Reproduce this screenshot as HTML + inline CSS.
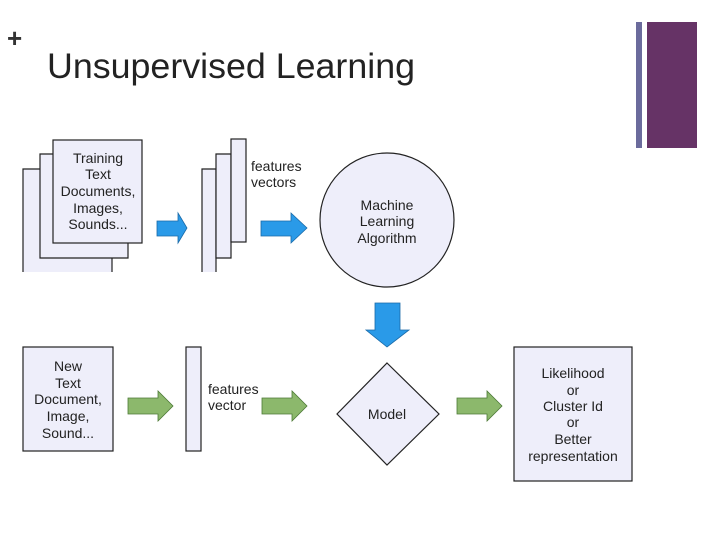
<!DOCTYPE html>
<html><head><meta charset="utf-8"><style>
body{margin:0;background:#fff}
svg{display:block;font-family:"Liberation Sans",Arial,sans-serif}
</style></head><body>
<svg width="720" height="540" viewBox="0 0 720 540" xmlns="http://www.w3.org/2000/svg">
<rect width="720" height="540" fill="#fff"/>
<text x="7" y="47" font-size="26" font-weight="bold" fill="#333">+</text>
<text x="47" y="78" font-size="35" fill="#222" textLength="368" lengthAdjust="spacingAndGlyphs">Unsupervised Learning</text>
<rect x="636" y="22" width="6" height="126" fill="#6b6b9c"/>
<rect x="647" y="22" width="50" height="126" fill="#663366"/>
<g fill="#eeeefa" stroke="#222" stroke-width="1.2">
<path d="M23 272 V169 H112 V272"/>
<path d="M40 258 V154 H128 V258 Z" />
<rect x="53" y="140" width="89" height="103"/>
<path d="M202 272 V169 H216 V272"/>
<path d="M216 258 V154 H231 V258 Z"/>
<rect x="231" y="139" width="15" height="103"/>
<circle cx="387" cy="220" r="67"/>
<rect x="23" y="347" width="90" height="104"/>
<rect x="186" y="347" width="15" height="104"/>
<polygon points="387,363 439,414 387,465 337,414"/>
<rect x="514" y="347" width="118" height="134"/>
</g>
<g font-size="14" fill="#222" text-anchor="middle">
<text x="98" y="163">Training</text><text x="98" y="179">Text</text><text x="98" y="196">Documents,</text><text x="98" y="213">Images,</text><text x="98" y="229">Sounds...</text>
<text x="387" y="210">Machine</text><text x="387" y="226">Learning</text><text x="387" y="243">Algorithm</text>
<text x="68" y="371">New</text><text x="68" y="388">Text</text><text x="68" y="404">Document,</text><text x="68" y="421">Image,</text><text x="68" y="438">Sound...</text>
<text x="387" y="419">Model</text>
<text x="573" y="378">Likelihood</text><text x="573" y="395">or</text><text x="573" y="411">Cluster Id</text><text x="573" y="427">or</text><text x="573" y="444">Better</text><text x="573" y="461">representation</text>
</g>
<g font-size="14" fill="#222">
<text x="251" y="171">features</text><text x="251" y="187">vectors</text>
<text x="208" y="394">features</text><text x="208" y="410">vector</text>
</g>
<g fill="#2a9ae8" stroke="#1a6aa8" stroke-width="0.8">
<polygon points="157,221 178,221 178,213 187,228 178,243 178,236 157,236"/>
<polygon points="261,221 291,221 291,213 307,228 291,243 291,236 261,236"/>
<polygon points="375,303 400,303 400,330 409,330 387,347 366,330 375,330"/>
</g>
<g fill="#8cb86c" stroke="#4d7a36" stroke-width="0.8">
<polygon points="128,398 158,398 158,391 173,406 158,421 158,414 128,414"/>
<polygon points="262,398 292,398 292,391 307,406 292,421 292,414 262,414"/>
<polygon points="457,398 487,398 487,391 502,406 487,421 487,414 457,414"/>
</g>
</svg>
</body></html>
